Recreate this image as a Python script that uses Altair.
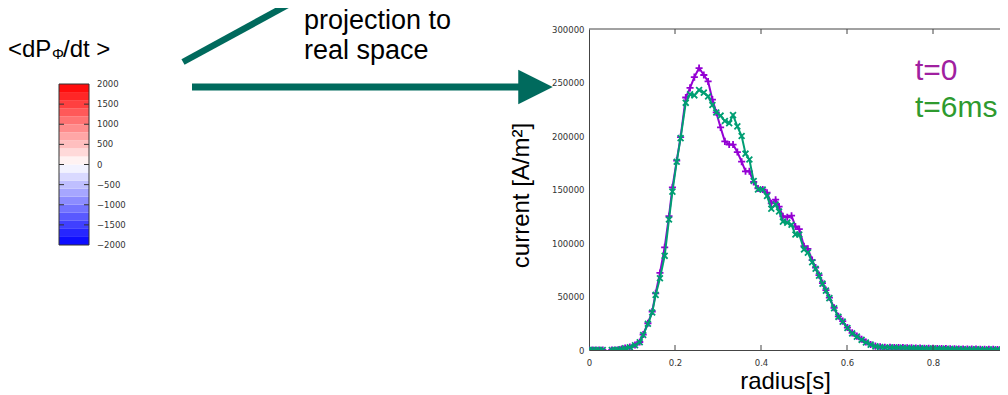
import altair as alt
import pandas as pd

# ---------------- data ----------------
radius = [
    0.000, 0.008, 0.016, 0.024, 0.032,
    0.053, 0.060, 0.068, 0.076, 0.084, 0.095, 0.107, 0.118, 0.126, 0.137,
    0.147, 0.155, 0.165, 0.176, 0.186, 0.194, 0.204, 0.213, 0.225, 0.235,
    0.245, 0.256, 0.267, 0.277, 0.287, 0.296, 0.306, 0.316, 0.326, 0.335,
    0.345, 0.355, 0.364, 0.373, 0.383, 0.393, 0.404, 0.414, 0.424, 0.434,
    0.442, 0.451, 0.461, 0.471, 0.480, 0.489, 0.500, 0.509, 0.519, 0.527,
    0.535, 0.543, 0.551, 0.559, 0.570, 0.580, 0.590, 0.601, 0.612, 0.623,
    0.634, 0.644, 0.655, 0.666, 0.677, 0.688,
    0.70, 0.71, 0.72, 0.73, 0.74, 0.75, 0.76, 0.77, 0.78, 0.79,
    0.80, 0.81, 0.82, 0.83, 0.84, 0.85, 0.86, 0.87, 0.88, 0.89,
    0.90, 0.91, 0.92, 0.93, 0.94, 0.95, 0.96, 0.97, 0.98, 0.99,
    1.00,
]

current_t0 = [
    0, 0, 0, 0, 0,
    0, 0, 300, 800, 1800, 2800, 4700, 7500, 14500, 25000,
    36000, 53000, 72000, 96000, 125000, 152000, 177000, 199000, 236000, 245000,
    255000, 263500, 257000, 251000, 234000, 222000, 208000, 195000, 192000, 192000,
    185000, 176000, 167000, 167000, 157000, 151000, 150000, 147000, 137000, 140500,
    134000, 125000, 124000, 125500, 115500, 113000, 97000, 94500, 84000, 77000,
    70000, 62500, 56000, 49000, 39500, 31500, 27000, 21000, 16000, 13000,
    10000, 7500, 5200, 3600, 3000, 2600,
    2500, 2400, 2300, 2200, 2100, 2000, 1900, 1800, 1700, 1600,
    1500, 1450, 1400, 1300, 1200, 1100, 1000, 950, 900, 850,
    800, 750, 700, 650, 600, 550, 500, 450, 400, 350,
    300,
]

current_t6 = [
    0, 0, 0, 0, 0,
    0, 0, 200, 700, 1600, 2600, 4500, 7200, 14000, 24500,
    35000, 51500, 67000, 88000, 122000, 148000, 176000, 198000, 231000, 239000,
    238000, 243000, 240500, 237000, 229000, 222000, 219000, 214000, 212000, 219500,
    209000, 200000, 183500, 178000, 158000, 150000, 150000, 144000, 132000, 136000,
    129500, 120000, 119000, 117000, 108000, 108000, 94000, 91000, 82000, 76000,
    69500, 62000, 55500, 48500, 39000, 31000, 26500, 20500, 15500, 12500,
    9500, 7000, 5000, 3400, 2800, 2400,
    2300, 2200, 2100, 2000, 1900, 1800, 1700, 1600, 1500, 1400,
    1300, 1250, 1200, 1100, 1000, 900, 800, 750, 700, 650,
    600, 550, 500, 450, 400, 350, 300, 250, 200, 150,
    100,
]

series_names = ["t=0", "t=6ms"]
line_colors = ["#9400d3", "#009e73"]
legend_colors = ["#a020a0", "#2e9a2e"]

x_tick_values = [0, 0.2, 0.4, 0.6, 0.8]
inner_tick_values = [0.2, 0.4, 0.6, 0.8]
y_tick_values = [0, 50000, 100000, 150000, 200000, 250000, 300000]

cbar_band_low = [-2000, -1800, -1600, -1400, -1200, -1000, -800, -600, -400, -200,
                 0, 200, 400, 600, 800, 1000, 1200, 1400, 1600, 1800]
cbar_label_values = [-2000, -1500, -1000, -500, 0, 500, 1000, 1500, 2000]
cbar_tick_values = [-1500, -1000, -500, 0, 500, 1000, 1500]

cbar_title = ["<dP", "Φ", "/dt >"]
note_lines = ["projection to", "real space"]

# ---------------- layout ----------------
W, H = 411, 321
TEAL = "#006a5d"
AXIS_C = "#444444"
LABEL_C = "#333333"

df0 = pd.DataFrame({"radius": radius, "current": current_t0, "series": series_names[0]})
df6 = pd.DataFrame({"radius": radius, "current": current_t6, "series": series_names[1]})
one = pd.DataFrame({"k": [0]})

xscale = alt.Scale(domain=[0, W / 430.0], nice=False, zero=False)
yscale = alt.Scale(domain=[0, 300000], nice=False)

xaxis = alt.Axis(
    values=x_tick_values, format="~g", tickSize=0, grid=False,
    domainColor=AXIS_C, domainWidth=1, labelFlush=False,
    labelFont="DejaVu Sans", labelFontSize=8.5, labelColor=LABEL_C, labelPadding=8,
    title="radius[s]", titleFont="Liberation Sans", titleFontSize=24,
    titleFontWeight="normal", titleColor="#000000",
    titleX=196, titleY=38, titleAlign="center", titleBaseline="alphabetic",
)
yaxis = alt.Axis(
    values=y_tick_values, format="d", tickSize=0, grid=False,
    domainColor=AXIS_C, domainWidth=1, labelFlush=False,
    labelFont="DejaVu Sans", labelFontSize=8.5, labelColor=LABEL_C, labelPadding=5,
    title="current [A/m²]", titleFont="Liberation Sans", titleFontSize=24,
    titleFontWeight="normal", titleColor="#000000",
    titleX=-61, titleY=166, titleAngle=-90, titleAlign="center", titleBaseline="alphabetic",
)

PLUS = "M-1,0L1,0M0,-1L0,1"
CROSS = "M-1,-1L1,1M-1,1L1,-1"

seg = "datum.radius < 0.04 ? 'a' : 'b'"

line0 = alt.Chart(df0).transform_calculate(seg=seg).mark_line(
    color=line_colors[0], strokeWidth=2, clip=True
).encode(
    x=alt.X("radius:Q", scale=xscale, axis=xaxis),
    y=alt.Y("current:Q", scale=yscale, axis=yaxis),
    detail="seg:N",
)
pts0 = alt.Chart(df0).mark_point(
    shape=PLUS, size=50, strokeWidth=1.8, color=line_colors[0], filled=False, opacity=1, clip=True
).encode(
    x=alt.X("radius:Q"),
    y=alt.Y("current:Q", scale=yscale, axis=None),
)
line6 = alt.Chart(df6).transform_calculate(seg=seg).mark_line(
    color=line_colors[1], strokeWidth=2, clip=True
).encode(
    x=alt.X("radius:Q"),
    y=alt.Y("current:Q", scale=yscale, axis=None),
    detail="seg:N",
)
pts6 = alt.Chart(df6).mark_point(
    shape=CROSS, size=34, strokeWidth=1.8, color=line_colors[1], filled=False, opacity=1, clip=True
).encode(
    x=alt.X("radius:Q"),
    y=alt.Y("current:Q", scale=yscale, axis=None),
)

tick_df = pd.DataFrame({"radius": inner_tick_values})
bottom_ticks = alt.Chart(tick_df).mark_rule(color=AXIS_C, strokeWidth=1).encode(
    x=alt.X("radius:Q"), y=alt.value(H - 5), y2=alt.value(H)
)
top_ticks = alt.Chart(tick_df).mark_rule(color=AXIS_C, strokeWidth=1).encode(
    x=alt.X("radius:Q"), y=alt.value(0), y2=alt.value(5)
)
top_frame = alt.Chart(one).mark_rule(color=AXIS_C, strokeWidth=1).encode(
    x=alt.value(0), x2=alt.value(W), y=alt.value(0)
)

# ---------------- colour bar ----------------
cb_scale = alt.Scale(domain=[-2000, 2000], range=[216, 55], nice=False, zero=False)
cb_df = pd.DataFrame({"lo": cbar_band_low})
cb_rect = alt.Chart(cb_df).transform_calculate(
    hi="datum.lo + 200", mid="datum.lo + 100"
).mark_rect(strokeWidth=0).encode(
    x=alt.value(-530), x2=alt.value(-500),
    y=alt.Y("lo:Q", scale=cb_scale, axis=None), y2="hi:Q",
    color=alt.Color("mid:Q", scale=alt.Scale(domain=[-2000, 0, 2000],
                    range=["#0000ff", "#ffffff", "#ff0000"], interpolate="rgb"), legend=None),
)
cb_frame = alt.Chart(pd.DataFrame({"lo": [-2000], "hi": [2000]})).mark_rect(
    fillOpacity=0, stroke="#333333", strokeWidth=1
).encode(
    x=alt.value(-530), x2=alt.value(-500),
    y=alt.Y("lo:Q", scale=cb_scale, axis=None), y2="hi:Q",
)
cbt_df = pd.DataFrame({"v": cbar_tick_values})
cb_tick_l = alt.Chart(cbt_df).mark_rule(color="#333333", strokeWidth=1).encode(
    x=alt.value(-530), x2=alt.value(-525), y=alt.Y("v:Q", scale=cb_scale, axis=None)
)
cb_tick_r = alt.Chart(cbt_df).mark_rule(color="#333333", strokeWidth=1).encode(
    x=alt.value(-505), x2=alt.value(-500), y=alt.Y("v:Q", scale=cb_scale, axis=None)
)
cb_labels = alt.Chart(pd.DataFrame({"v": cbar_label_values})).mark_text(
    align="left", baseline="middle", font="DejaVu Sans", fontSize=8.5, color=LABEL_C
).encode(
    x=alt.value(-492), y=alt.Y("v:Q", scale=cb_scale, axis=None), text=alt.Text("v:Q", format="d")
)


def label(txt, x, y, size, color="#000000", font="Liberation Sans"):
    return alt.Chart(pd.DataFrame({"label": [txt]})).mark_text(
        align="left", baseline="alphabetic", font=font, fontSize=size, color=color
    ).encode(x=alt.value(x), y=alt.value(y), text="label:N")


cb_t1 = label(cbar_title[0], -581, 28, 24)
cb_t2 = label(cbar_title[1], -537, 30, 15)
cb_t3 = label(cbar_title[2], -526, 28, 24)

note1 = label(note_lines[0], -285, 0, 27)
note2 = label(note_lines[1], -285, 30, 27)

leg0 = label(series_names[0], 326, 51, 30, legend_colors[0])
leg6 = label(series_names[1], 326, 88, 30, legend_colors[1])

# ---------------- arrows ----------------
diag = alt.Chart(one).mark_rule(color=TEAL, strokeWidth=6.5).encode(
    x=alt.value(-406), y=alt.value(33), x2=alt.value(-285), y2=alt.value(-33)
)
shaft = alt.Chart(one).mark_rule(color=TEAL, strokeWidth=7).encode(
    x=alt.value(-397), x2=alt.value(-66), y=alt.value(58)
)
head = alt.Chart(one).mark_point(
    shape="M-1,-1L1,0L-1,1Z", filled=True, size=1190, color=TEAL, opacity=1, strokeWidth=0
).encode(x=alt.value(-53.5), y=alt.value(58))

chart = alt.layer(
    line0, pts0, line6, pts6,
    bottom_ticks, top_ticks, top_frame,
    cb_rect, cb_frame, cb_tick_l, cb_tick_r, cb_labels,
    cb_t1, cb_t2, cb_t3, note1, note2, leg0, leg6,
    diag, shaft, head,
).resolve_scale(
    y="independent", color="independent"
).properties(
    width=W, height=H,
    autosize=alt.AutoSizeParams(type="none"),
    padding={"left": 581, "top": 21, "right": 0, "bottom": 45},
).configure_view(strokeWidth=0)

chart.save("out.html", embed_options={"renderer": "svg", "actions": False})
